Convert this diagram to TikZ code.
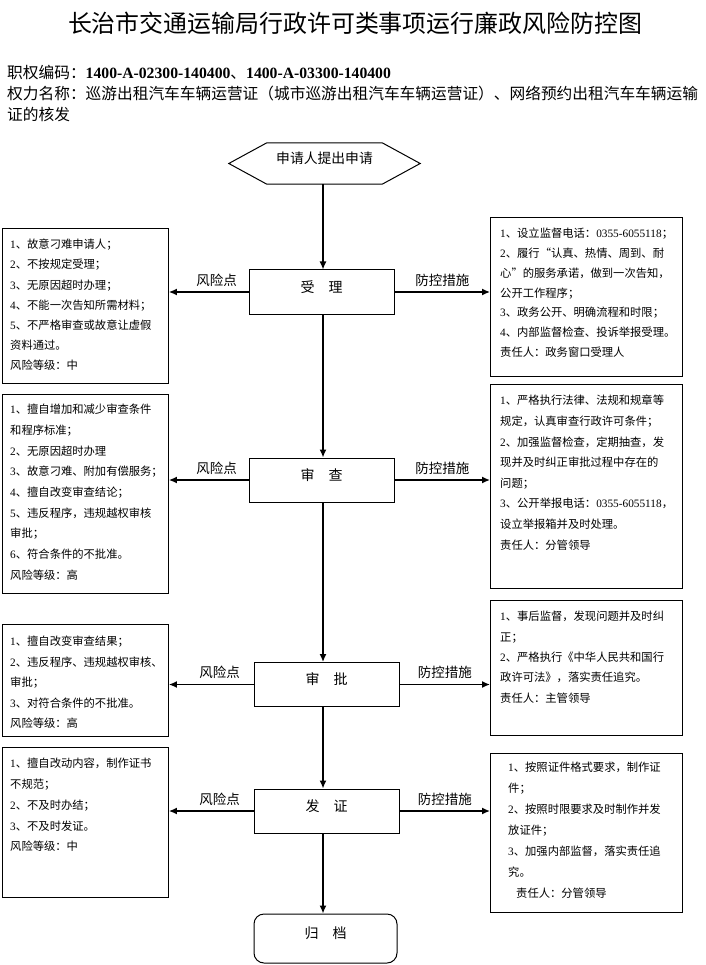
\documentclass[tikz,border=0pt]{standalone}
\usepackage{fontspec}
\usepackage{graphicx}
\setmainfont{Liberation Serif}
\newfontfamily\cjk{Noto Sans CJK SC}
\newcommand\latn[1]{{\rmfamily #1}}
\usetikzlibrary{arrows.meta,calc}
\begin{document}
\begin{tikzpicture}[x=1pt,y=-1pt,
  conn/.style={line width=1.4pt,-{Latex[length=8pt,width=7pt]}},
  stepbox/.style={draw,line width=1pt,minimum width=145pt,minimum height=44pt,inner sep=0pt,
    font=\cjk\fontsize{14}{16}\selectfont,text height=12pt,text depth=11.5pt},
  sidebox/.style={draw,line width=0.9pt,anchor=north west,inner sep=0pt},
  boxtext/.style={anchor=north west,inner sep=0pt,align=left},
  lbl/.style={above=5pt,inner sep=0pt,font=\cjk\fontsize{13.5}{15}\selectfont},
  hdr/.style={anchor=west,inner sep=0pt}
]
\useasboundingbox (0,0) rectangle (705,965);

% header
\node[inner sep=0pt,font=\cjk\fontsize{24}{28}\selectfont] (title) at (355,23)
  {\resizebox{574pt}{20.5pt}{长治市交通运输局行政许可类事项运行廉政风险防控图}};
\node[hdr,font=\fontsize{15.7}{18}\selectfont] (code) at (7,73)
  {{\cjk 职权编码：}\textbf{1400-A-02300-140400}{\cjk 、}\textbf{1400-A-03300-140400}};
\node[hdr,font=\cjk\fontsize{15.7}{18}\selectfont] (name1) at (7,94)
  {权力名称：巡游出租汽车车辆运营证（城市巡游出租汽车车辆运营证）、网络预约出租汽车车辆运输};
\node[hdr,font=\cjk\fontsize{15.7}{18}\selectfont] (name2) at (7,115) {证的核发};

% start hexagon
\node[font=\cjk\fontsize{13.8}{15}\selectfont,minimum width=191pt,minimum height=41pt,
  inner sep=0pt,text height=12pt,text depth=11.5pt] (start) at (324.5,163.5) {申请人提出申请};
\draw[line width=1pt] (start.west) -- ([xshift=38pt]start.north west) -- ([xshift=-38pt]start.north east)
  -- (start.east) -- ([xshift=-38pt]start.south east) -- ([xshift=38pt]start.south west) -- cycle;

% main steps
\node[stepbox] (shouli) at (321.5,292) {受\hspace{1em}理};
\node[stepbox] (shencha) at (321.5,480) {审\hspace{1em}查};
\node[stepbox] (shenpi) at (326.5,684.5) {审\hspace{1em}批};
\node[stepbox] (fazheng) at (326.5,811) {发\hspace{1em}证};
\node[stepbox,rounded corners=10pt,minimum width=143pt,minimum height=49pt] (guidang) at (325.5,938.5) {归\hspace{1em}档};

% side boxes
\node[sidebox,minimum width=166pt,minimum height=155pt] (L1) at (2,228) {};
\node[sidebox,minimum width=192pt,minimum height=159pt] (R1) at (490,217) {};
\node[sidebox,minimum width=166pt,minimum height=199pt] (L2) at (2,394) {};
\node[sidebox,minimum width=192pt,minimum height=204pt] (R2) at (490,384) {};
\node[sidebox,minimum width=166pt,minimum height=112pt] (L3) at (2,624) {};
\node[sidebox,minimum width=192pt,minimum height=135pt] (R3) at (490,600) {};
\node[sidebox,minimum width=166pt,minimum height=150pt] (L4) at (2,747) {};
\node[sidebox,minimum width=192pt,minimum height=159pt] (R4) at (490,753) {};

% side texts
\node[boxtext,font=\cjk\fontsize{11.3}{20.2}\selectfont] (L1t) at (10,239) {%
\latn{1}、故意刁难申请人；\\%
\latn{2}、不按规定受理；\\%
\latn{3}、无原因超时办理；\\%
\latn{4}、不能一次告知所需材料；\\%
\latn{5}、不严格审查或故意让虚假\\%
资料通过。\\%
风险等级：中};
\node[boxtext,font=\cjk\fontsize{11.3}{19.8}\selectfont] (R1t) at (500,228) {%
\latn{1}、设立监督电话：\latn{0355-6055118}；\\%
\latn{2}、履行“认真、热情、周到、耐\\%
心”的服务承诺，做到一次告知，\\%
公开工作程序；\\%
\latn{3}、政务公开、明确流程和时限；\\%
\latn{4}、内部监督检查、投诉举报受理。\\%
责任人：政务窗口受理人};
\node[boxtext,font=\cjk\fontsize{11.3}{20.7}\selectfont] (L2t) at (10,404) {%
\latn{1}、擅自增加和减少审查条件\\%
和程序标准；\\%
\latn{2}、无原因超时办理\\%
\latn{3}、故意刁难、附加有偿服务；\\%
\latn{4}、擅自改变审查结论；\\%
\latn{5}、违反程序，违规越权审核\\%
审批；\\%
\latn{6}、符合条件的不批准。\\%
风险等级：高};
\node[boxtext,font=\cjk\fontsize{11.3}{20.6}\selectfont] (R2t) at (500,395) {%
\latn{1}、严格执行法律、法规和规章等\\%
规定，认真审查行政许可条件；\\%
\latn{2}、加强监督检查，定期抽查，发\\%
现并及时纠正审批过程中存在的\\%
问题；\\%
\latn{3}、公开举报电话：\latn{0355-6055118}，\\%
设立举报箱并及时处理。\\%
责任人：分管领导};
\node[boxtext,font=\cjk\fontsize{11.3}{20.4}\selectfont] (L3t) at (10,636) {%
\latn{1}、擅自改变审查结果；\\%
\latn{2}、违反程序、违规越权审核、\\%
审批；\\%
\latn{3}、对符合条件的不批准。\\%
风险等级：高};
\node[boxtext,font=\cjk\fontsize{11.3}{20.4}\selectfont] (R3t) at (500,611) {%
\latn{1}、事后监督，发现问题并及时纠\\%
正；\\%
\latn{2}、严格执行《中华人民共和国行\\%
政许可法》，落实责任追究。\\%
责任人：主管领导};
\node[boxtext,font=\cjk\fontsize{11.3}{20.8}\selectfont] (L4t) at (10,758) {%
\latn{1}、擅自改动内容，制作证书\\%
不规范；\\%
\latn{2}、不及时办结；\\%
\latn{3}、不及时发证。\\%
风险等级：中};
\node[boxtext,font=\cjk\fontsize{11.3}{21}\selectfont] (R4t) at (508,762) {%
\latn{1}、按照证件格式要求，制作证\\%
件；\\%
\latn{2}、按照时限要求及时制作并发\\%
放证件；\\%
\latn{3}、加强内部监督，落实责任追\\%
究。\\%
\hspace*{8pt}责任人：分管领导};

% main axis connectors
\coordinate (axis) at (323,0);
\draw[conn] (start.south -| axis) -- (shouli.north -| axis);
\draw[conn] (shouli.south -| axis) -- (shencha.north -| axis);
\draw[conn] (shencha.south -| axis) -- (shenpi.north -| axis);
\draw[conn] (shenpi.south -| axis) -- (fazheng.north -| axis);
\draw[conn] (fazheng.south -| axis) -- (guidang.north -| axis);

% side connectors
\draw[conn] (shouli.west) -- (L1.east |- shouli.west) node[lbl,pos=0.4] (r1) {风险点};
\draw[conn] (shouli.east) -- (R1.west |- shouli.east) node[lbl,midway] (m1) {防控措施};
\draw[conn] (shencha.west) -- (L2.east |- shencha.west) node[lbl,pos=0.4] (r2) {风险点};
\draw[conn] (shencha.east) -- (R2.west |- shencha.east) node[lbl,midway] (m2) {防控措施};
\draw[conn] (shenpi.west) -- (L3.east |- shenpi.west) node[lbl,pos=0.4] (r3) {风险点};
\draw[conn] (shenpi.east) -- (R3.west |- shenpi.east) node[lbl,midway] (m3) {防控措施};
\draw[conn] (fazheng.west) -- (L4.east |- fazheng.west) node[lbl,pos=0.4] (r4) {风险点};
\draw[conn] (fazheng.east) -- (R4.west |- fazheng.east) node[lbl,midway] (m4) {防控措施};
\end{tikzpicture}
\end{document}
